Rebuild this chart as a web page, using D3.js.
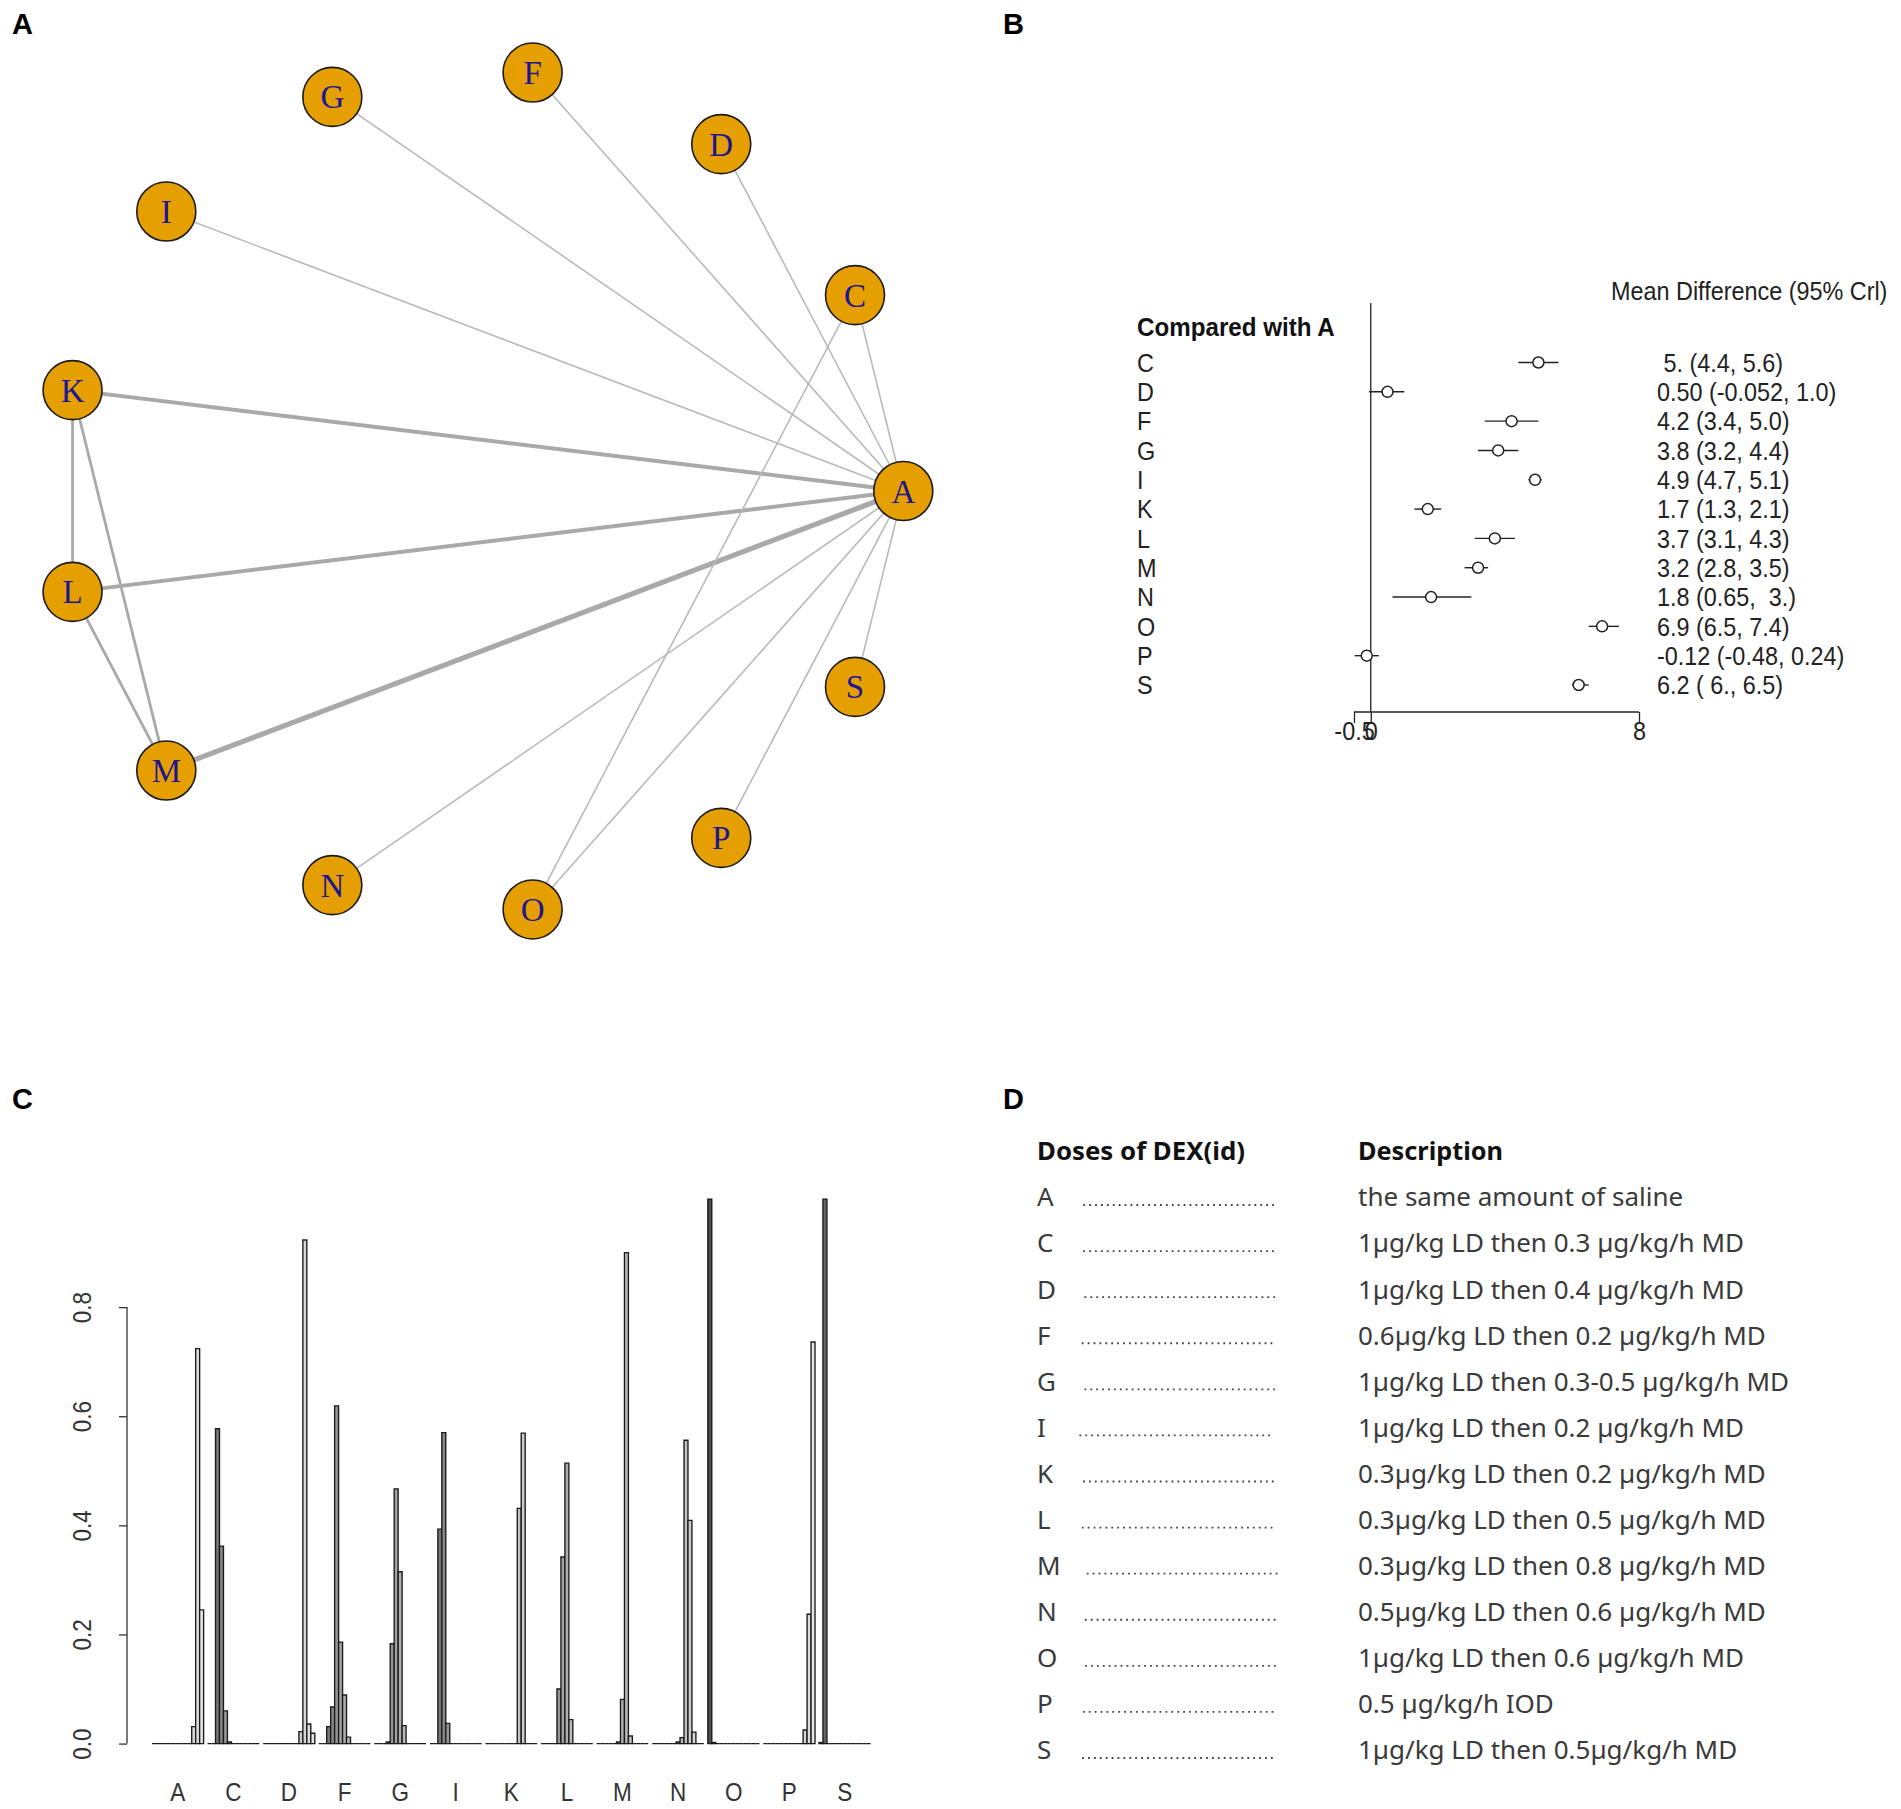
<!DOCTYPE html>
<html>
<head>
<meta charset="utf-8">
<script src="https://cdn.jsdelivr.net/npm/d3@7"></script>
<style>
  body { margin: 0; background: #ffffff; }
  svg { display: block; }
  text { white-space: pre; }
</style>
</head>
<body>
<div id="chart"></div>
<script>
// ---------------- DATA ----------------
// Panel A: network
const treatments = ["A", "C", "D", "F", "G", "I", "K", "L", "M", "N", "O", "P", "S"];
const edgeFrom = ["A", "A", "A", "A", "A", "A", "A", "A", "A", "A", "A", "A", "C", "K", "K", "L"];
const edgeTo   = ["C", "D", "F", "G", "I", "K", "L", "M", "N", "O", "P", "S", "O", "L", "M", "M"];
const edgeStudies = [1, 1, 1, 1, 1, 3, 3, 4, 1, 1, 1, 1, 1, 2, 2, 2];

// Panel B: forest plot, compared with A
const forestLabels = ["C", "D", "F", "G", "I", "K", "L", "M", "N", "O", "P", "S"];
const mdMean  = [5.0, 0.50, 4.2, 3.8, 4.9, 1.7, 3.7, 3.2, 1.8, 6.9, -0.12, 6.2];
const mdLower = [4.4, -0.052, 3.4, 3.2, 4.7, 1.3, 3.1, 2.8, 0.65, 6.5, -0.48, 6.0];
const mdUpper = [5.6, 1.0, 5.0, 4.4, 5.1, 2.1, 4.3, 3.5, 3.0, 7.4, 0.24, 6.5];
const mdText  = [" 5. (4.4, 5.6)", "0.50 (-0.052, 1.0)", "4.2 (3.4, 5.0)", "3.8 (3.2, 4.4)",
                 "4.9 (4.7, 5.1)", "1.7 (1.3, 2.1)", "3.7 (3.1, 4.3)", "3.2 (2.8, 3.5)",
                 "1.8 (0.65,  3.)", "6.9 (6.5, 7.4)", "-0.12 (-0.48, 0.24)", "6.2 ( 6., 6.5)"];
const forestTicks = [-0.5, 0, 8];
const forestTitle = "Mean Difference (95% Crl)";
const forestSubtitle = "Compared with A";

// Panel C: rank probabilities (ranks 1..13) per treatment
const rankProbabilities = [
  [0, 0, 0, 0, 0, 0, 0, 0, 0, 0, 0.031, 0.724, 0.245],        // A
  [0, 0, 0.577, 0.362, 0.060, 0.003, 0, 0, 0, 0, 0, 0, 0],      // C
  [0, 0, 0, 0, 0, 0, 0, 0, 0, 0.022, 0.923, 0.036, 0.019],      // D
  [0, 0, 0.031, 0.067, 0.619, 0.186, 0.089, 0.012, 0, 0, 0, 0, 0], // F
  [0, 0, 0, 0.003, 0.183, 0.467, 0.315, 0.033, 0, 0, 0, 0, 0],  // G
  [0, 0, 0.393, 0.570, 0.037, 0, 0, 0, 0, 0, 0, 0, 0],          // I
  [0, 0, 0, 0, 0, 0, 0, 0, 0.431, 0.569, 0, 0, 0],              // K
  [0, 0, 0, 0, 0.100, 0.342, 0.514, 0.044, 0, 0, 0, 0, 0],      // L
  [0, 0, 0, 0, 0, 0.003, 0.081, 0.900, 0.014, 0, 0, 0, 0],      // M
  [0, 0, 0, 0, 0, 0, 0.003, 0.011, 0.556, 0.409, 0.021, 0, 0],  // N
  [0.998, 0.002, 0, 0, 0, 0, 0, 0, 0, 0, 0, 0, 0],              // O
  [0, 0, 0, 0, 0, 0, 0, 0, 0, 0, 0.025, 0.237, 0.736],          // P
  [0.002, 0.998, 0, 0, 0, 0, 0, 0, 0, 0, 0, 0, 0]               // S
];
const rankTicks = [0, 0.2, 0.4, 0.6, 0.8];

// Panel D: dose table
const doseHeader = "Doses of DEX(id)";
const descHeader = "Description";
const doseIds = ["A", "C", "D", "F", "G", "I", "K", "L", "M", "N", "O", "P", "S"];
const doseDescriptions = [
  "the same amount of saline",
  "1\u00b5g/kg LD then 0.3 \u00b5g/kg/h MD",
  "1\u00b5g/kg LD then 0.4 \u00b5g/kg/h MD",
  "0.6\u00b5g/kg LD then 0.2 \u00b5g/kg/h MD",
  "1\u00b5g/kg LD then 0.3-0.5 \u00b5g/kg/h MD",
  "1\u00b5g/kg LD then 0.2 \u00b5g/kg/h MD",
  "0.3\u00b5g/kg LD then 0.2 \u00b5g/kg/h MD",
  "0.3\u00b5g/kg LD then 0.5 \u00b5g/kg/h MD",
  "0.3\u00b5g/kg LD then 0.8 \u00b5g/kg/h MD",
  "0.5\u00b5g/kg LD then 0.6 \u00b5g/kg/h MD",
  "1\u00b5g/kg LD then 0.6 \u00b5g/kg/h MD",
  "0.5 \u00b5g/kg/h IOD",
  "1\u00b5g/kg LD then 0.5\u00b5g/kg/h MD"
];
const panelLetters = ["A", "B", "C", "D"];

// ---------------- DRAW ----------------
const W = 1901, H = 1809;
const svg = d3.select("#chart").append("svg")
  .attr("width", W).attr("height", H)
  .style("background", "#fff");

const sans = "'Liberation Sans', Arial, sans-serif";

// panel letters
const letterPos = [[12, 34], [1003, 34], [12, 1109], [1003, 1109]];
svg.selectAll("text.panel").data(panelLetters).join("text")
  .attr("class", "panel")
  .attr("x", (d, i) => letterPos[i][0]).attr("y", (d, i) => letterPos[i][1])
  .attr("font-family", sans).attr("font-weight", "bold").attr("font-size", 29)
  .attr("fill", "#000").text(d => d);

// ===== Panel A: network =====
(function () {
  const g = svg.append("g");
  const cx = 481.8, cy = 491, R = 421.5, nodeR = 29.5;
  const angle = d3.scaleLinear().domain([0, treatments.length]).range([0, 2 * Math.PI]);
  const pos = {};
  treatments.forEach((t, i) => {
    const a = angle(i);
    pos[t] = [cx + R * Math.cos(a), cy - R * Math.sin(a)];
  });
  const width = d3.scaleLinear().domain([1, 4]).range([1.6, 5.2]);
  const edges = edgeFrom.map((f, i) => ({ f, t: edgeTo[i], n: edgeStudies[i] }));
  g.selectAll("line.edge").data(edges).join("line")
    .attr("class", "edge")
    .attr("x1", d => pos[d.f][0]).attr("y1", d => pos[d.f][1])
    .attr("x2", d => pos[d.t][0]).attr("y2", d => pos[d.t][1])
    .attr("stroke", d => d.n > 1 ? "#a9a9a9" : "#b9b9b9")
    .attr("stroke-width", d => width(d.n));
  const nodes = g.selectAll("g.node").data(treatments).join("g")
    .attr("class", "node")
    .attr("transform", d => `translate(${pos[d][0]},${pos[d][1]})`);
  nodes.append("circle").attr("r", nodeR)
    .attr("fill", "#E69F00").attr("stroke", "#1a1a1a").attr("stroke-width", 1.6);
  nodes.append("text")
    .attr("text-anchor", "middle").attr("dy", "0.35em")
    .attr("font-family", "'Liberation Serif', 'Times New Roman', serif")
    .attr("font-size", 33).attr("fill", "#1c1690")
    .text(d => d);
})();

// ===== Panel B: forest plot =====
(function () {
  const g = svg.append("g");
  const x = d3.scaleLinear().domain([-0.5, 8]).range([1354, 1639]);
  const y = d3.scaleLinear().domain([0, forestLabels.length - 1]).range([362.5, 685]);
  const axisY = 712;
  const sx = 0.9, fs = 26;
  const txt = (sel) => sel.attr("font-family", sans).attr("font-size", fs);

  // zero line
  g.append("line").attr("x1", x(0)).attr("x2", x(0)).attr("y1", 303).attr("y2", axisY)
    .attr("stroke", "#222").attr("stroke-width", 1.3);

  // axis
  const axis = d3.axisBottom(x).tickValues(forestTicks).tickSize(11).tickPadding(-1)
    .tickFormat(d => d === 0 ? "0" : String(d));
  const ag = g.append("g").attr("transform", `translate(0,${axisY})`).call(axis);
  ag.select(".domain").attr("d", `M${x(-0.5)},0H${x(8)}`).attr("stroke", "#222").attr("stroke-width", 1.3);
  ag.selectAll(".tick line").attr("stroke", "#222").attr("stroke-width", 1.3);
  ag.selectAll(".tick text").attr("font-family", sans).attr("font-size", fs).attr("fill", "#222")
    .attr("transform", `scale(${sx},1)`);

  // CI lines and points
  const rows = forestLabels.map((l, i) => ({ l, i, m: mdMean[i], lo: mdLower[i], hi: mdUpper[i], t: mdText[i] }));
  g.selectAll("line.ci").data(rows).join("line").attr("class", "ci")
    .attr("x1", d => x(d.lo)).attr("x2", d => x(d.hi))
    .attr("y1", d => y(d.i)).attr("y2", d => y(d.i))
    .attr("stroke", "#222").attr("stroke-width", 1.4);
  g.selectAll("circle.pt").data(rows).join("circle").attr("class", "pt")
    .attr("cx", d => x(d.m)).attr("cy", d => y(d.i)).attr("r", 5.5)
    .attr("fill", "#fff").attr("stroke", "#222").attr("stroke-width", 1.5);

  // row labels
  g.selectAll("text.rl").data(rows).join("text").attr("class", "rl")
    .attr("transform", d => `translate(1137,${y(d.i)}) scale(${sx},1)`)
    .attr("dy", "0.36em").call(txt).attr("fill", "#222").text(d => d.l);
  // values
  g.selectAll("text.val").data(rows).join("text").attr("class", "val")
    .attr("transform", d => `translate(1657,${y(d.i)}) scale(${sx},1)`)
    .attr("dy", "0.36em").call(txt).attr("fill", "#222").text(d => d.t);
  // headers
  g.append("text").attr("transform", `translate(1137,327) scale(${sx + 0.03},1)`)
    .attr("dy", "0.36em").call(txt).attr("font-weight", "bold").attr("fill", "#111").text(forestSubtitle);
  g.append("text").attr("transform", `translate(1611,291) scale(${sx},1)`)
    .attr("dy", "0.36em").call(txt).attr("fill", "#222").text(forestTitle);
})();

// ===== Panel C: rank probability bars =====
(function () {
  const g = svg.append("g");
  const y = d3.scaleLinear().domain([0, 1]).range([1743.6, 1198]);
  const xg = d3.scaleBand().domain(treatments).range([152, 870.6]).paddingInner(1 / 14).paddingOuter(0);
  const nR = rankProbabilities[0].length;
  const xr = d3.scaleBand().domain(d3.range(nR)).range([0, xg.bandwidth()]);
  const sGam = Math.pow(0.3, 2.2), eGam = Math.pow(0.9, 2.2);
  const gray = i => { const v = Math.round(255 * Math.pow(sGam + (eGam - sGam) * i / (nR - 1), 1 / 2.2)); return `rgb(${v},${v},${v})`; };

  const bars = [];
  treatments.forEach((t, ti) => rankProbabilities[ti].forEach((p, r) => bars.push({ t, r, p })));
  g.selectAll("path.bar").data(bars).join("path").attr("class", "bar")
    .attr("d", d => {
      const x0 = xg(d.t) + xr(d.r), x1 = x0 + xr.bandwidth();
      const y0 = y(0), y1 = y(d.p);
      return `M${x0},${y0}V${y1}H${x1}V${y0}Z`;
    })
    .attr("fill", d => gray(d.r)).attr("stroke", "#1a1a1a").attr("stroke-width", 1.35);

  // y axis
  const sx = 0.9, fs = 25;
  const axis = d3.axisLeft(y).tickValues(rankTicks).tickSize(8).tickFormat(d3.format(".1f"));
  const ag = g.append("g").attr("transform", "translate(127,0)").call(axis);
  ag.select(".domain").attr("d", `M0,${y(0)}V${y(0.8)}`).attr("stroke", "#333").attr("stroke-width", 1.3);
  ag.selectAll(".tick line").attr("stroke", "#333").attr("stroke-width", 1.3);
  ag.selectAll(".tick text").attr("font-family", sans).attr("font-size", fs).attr("fill", "#333")
    .attr("x", null).attr("dy", null).attr("text-anchor", "middle")
    .attr("transform", `translate(-45,0) rotate(-90) scale(${sx},1)`)
    .attr("dominant-baseline", "central");

  // x labels
  g.selectAll("text.xl").data(treatments).join("text").attr("class", "xl")
    .attr("transform", d => `translate(${xg(d) + xg.bandwidth() / 2},1792) scale(${sx},1)`)
    .attr("text-anchor", "middle").attr("dy", "0.36em")
    .attr("font-family", sans).attr("font-size", fs).attr("fill", "#333").text(d => d);
})();

// ===== Panel D: table =====
(function () {
  const g = svg.append("g");
  const font = "'Noto Sans', 'Open Sans', sans-serif";
  const fs = 26;
  const y = d3.scaleLinear().domain([0, doseIds.length - 1]).range([1197, 1750]);
  g.append("text").attr("x", 1037).attr("y", 1151).attr("dy", "0.36em")
    .attr("font-family", font).attr("font-weight", "bold").attr("font-size", 25.8).attr("fill", "#111").text(doseHeader);
  g.append("text").attr("x", 1358).attr("y", 1151).attr("dy", "0.36em")
    .attr("font-family", font).attr("font-weight", "bold").attr("font-size", 25.3).attr("fill", "#111").text(descHeader);
  const rows = doseIds.map((id, i) => ({ id, i, desc: doseDescriptions[i] }));
  const ids = g.selectAll("text.id").data(rows).join("text").attr("class", "id")
    .attr("x", 1037).attr("y", d => y(d.i)).attr("dy", "0.36em")
    .attr("font-family", font).attr("font-size", fs).attr("fill", "#3a3a3a").text(d => d.id);
  // dotted leaders
  ids.each(function (d) {
    const w = this.getComputedTextLength();
    const x0 = 1037 + 0.5 * w + 38;
    g.append("line").attr("x1", x0).attr("x2", x0 + 194)
      .attr("y1", y(d.i) + 8).attr("y2", y(d.i) + 8)
      .attr("stroke", "#444").attr("stroke-width", 1.8).attr("stroke-dasharray", "1.8,4.1");
  });
  g.selectAll("text.desc").data(rows).join("text").attr("class", "desc")
    .attr("x", 1358).attr("y", d => y(d.i)).attr("dy", "0.36em")
    .attr("font-family", font).attr("font-size", fs).attr("fill", "#3a3a3a").text(d => d.desc);
})();
</script>
</body>
</html>
